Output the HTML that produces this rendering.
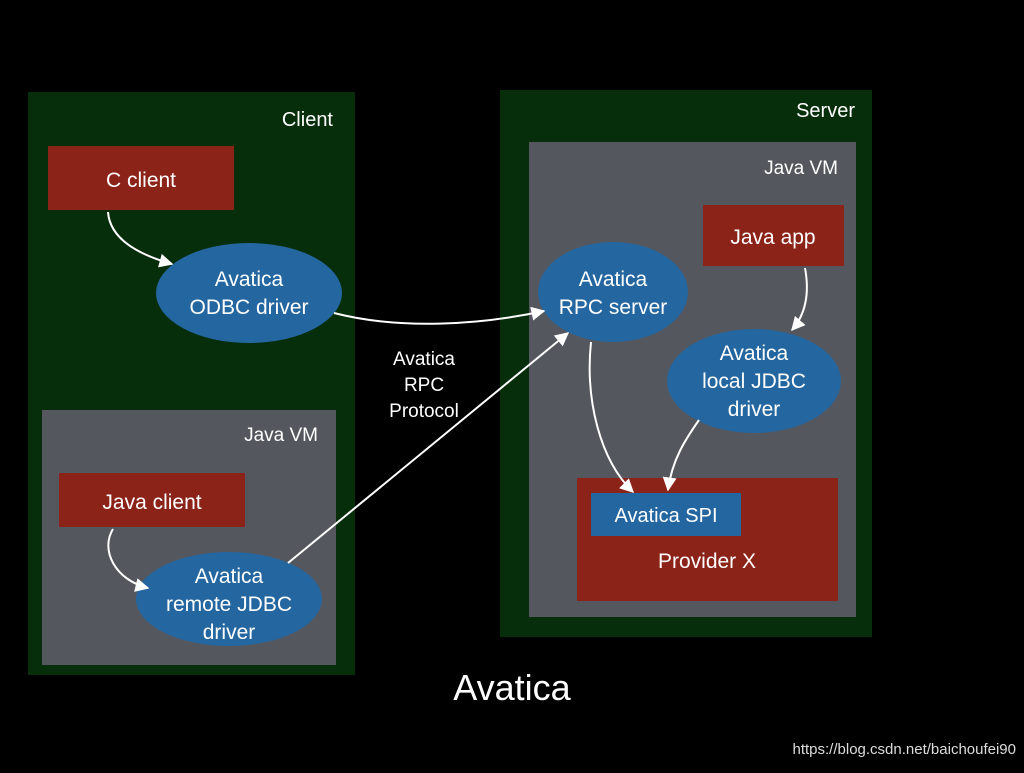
<!DOCTYPE html>
<html><head><style>body{margin:0;background:#000}</style></head><body>
<svg width="1024" height="768" xmlns="http://www.w3.org/2000/svg" font-family="'Liberation Sans',sans-serif" fill="#fff">
<defs><marker id="a" viewBox="0 0 10 10" refX="9" refY="5" markerWidth="7" markerHeight="7" orient="auto"><path d="M0,0L10,5L0,10z" fill="#fff"/></marker></defs>
<rect width="1024" height="768" fill="#000"/>
<rect x="28" y="92" width="327" height="583" fill="#062e0a"/>
<rect x="500" y="90" width="372" height="547" fill="#062e0a"/>
<rect x="529" y="142" width="327" height="475" fill="#54575e"/>
<rect x="42" y="410" width="294" height="255" fill="#54575e"/>
<text x="333" y="126" font-size="20" text-anchor="end">Client</text>
<text x="855" y="117" font-size="20" text-anchor="end">Server</text>
<text x="838" y="174" font-size="19" text-anchor="end">Java VM</text>
<text x="318" y="441" font-size="19" text-anchor="end">Java VM</text>
<rect x="48" y="146" width="186" height="64" fill="#8b2318"/>
<text x="141" y="187" font-size="21" text-anchor="middle">C client</text>
<rect x="59" y="473" width="186" height="54" fill="#8b2318"/>
<text x="152" y="509" font-size="21" text-anchor="middle">Java client</text>
<rect x="703" y="205" width="141" height="61" fill="#8b2318"/>
<text x="773" y="244" font-size="21" text-anchor="middle">Java app</text>
<rect x="577" y="478" width="261" height="123" fill="#8b2318"/>
<rect x="591" y="493" width="150" height="43" fill="#2466a0"/>
<text x="666" y="522" font-size="20" text-anchor="middle">Avatica SPI</text>
<text x="707" y="568" font-size="21" text-anchor="middle">Provider X</text>
<ellipse cx="249" cy="293" rx="93" ry="50" fill="#2466a0"/>
<text x="249" y="286" font-size="21" text-anchor="middle">Avatica</text>
<text x="249" y="314" font-size="21" text-anchor="middle">ODBC driver</text>
<ellipse cx="229" cy="599" rx="93" ry="47" fill="#2466a0"/>
<text x="229" y="583" font-size="21" text-anchor="middle">Avatica</text>
<text x="229" y="611" font-size="21" text-anchor="middle">remote JDBC</text>
<text x="229" y="639" font-size="21" text-anchor="middle">driver</text>
<ellipse cx="613" cy="292" rx="75" ry="50" fill="#2466a0"/>
<text x="613" y="286" font-size="21" text-anchor="middle">Avatica</text>
<text x="613" y="314" font-size="21" text-anchor="middle">RPC server</text>
<ellipse cx="754" cy="381" rx="87" ry="52" fill="#2466a0"/>
<text x="754" y="360" font-size="21" text-anchor="middle">Avatica</text>
<text x="754" y="388" font-size="21" text-anchor="middle">local JDBC</text>
<text x="754" y="416" font-size="21" text-anchor="middle">driver</text>
<text x="424" y="365" font-size="19" text-anchor="middle">Avatica</text>
<text x="424" y="391" font-size="19" text-anchor="middle">RPC</text>
<text x="424" y="417" font-size="19" text-anchor="middle">Protocol</text>
<text x="512" y="700" font-size="36" text-anchor="middle">Avatica</text>
<text x="1016" y="754" font-size="15" fill="#ddd" text-anchor="end">https://blog.csdn.net/baichoufei90</text>
<g stroke="#fff" stroke-width="2" fill="none" marker-end="url(#a)">
<path d="M108,212 C110,240 140,255 172,264"/>
<path d="M334,313 C400,330 480,325 544,311"/>
<path d="M288,563 L568,333"/>
<path d="M113,529 C100,550 115,580 148,588"/>
<path d="M591,342 C585,400 600,460 633,492"/>
<path d="M805,268 C810,295 805,315 792,330"/>
<path d="M699,420 C685,440 672,460 668,490"/>
</g>
</svg>
</body></html>
